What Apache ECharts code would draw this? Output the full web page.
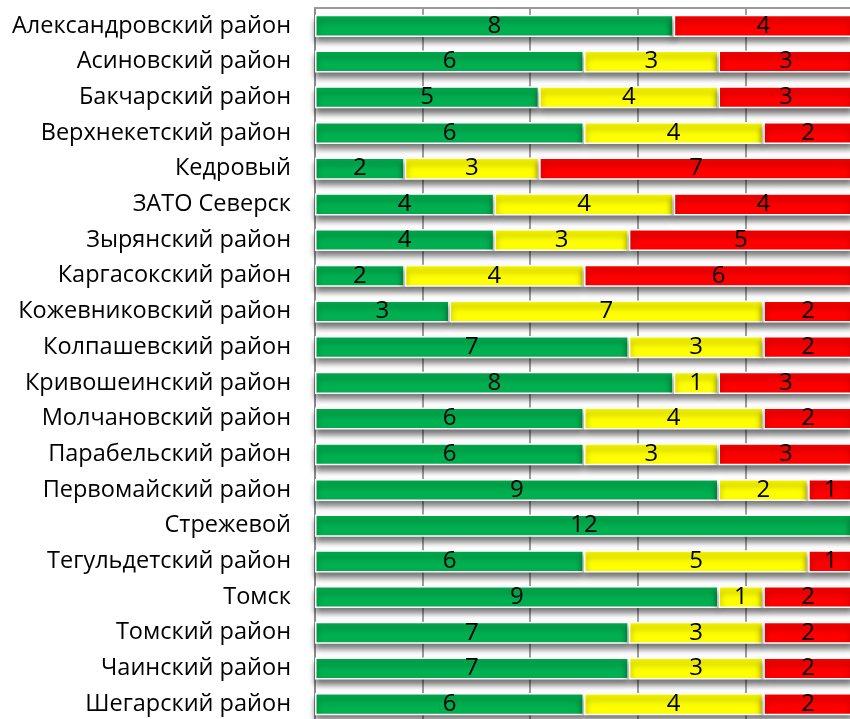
<!DOCTYPE html>
<html>
<head>
<meta charset="utf-8">
<script src="https://cdn.jsdelivr.net/npm/echarts@6/dist/echarts.min.js"></script>
<style>html,body{margin:0;padding:0;background:#fff;}#c{width:850px;height:719px;}</style>
</head>
<body>
<div id="c"></div>
<script>
const categories = ["Александровский район","Асиновский район","Бакчарский район","Верхнекетский район","Кедровый","ЗАТО Северск","Зырянский район","Каргасокский район","Кожевниковский район","Колпашевский район","Кривошеинский район","Молчановский район","Парабельский район","Первомайский район","Стрежевой","Тегульдетский район","Томск","Томский район","Чаинский район","Шегарский район"];
const greenValues  = [8,6,5,6,2,4,4,2,3,7,8,6,6,9,12,6,9,7,7,6];
const yellowValues = [0,3,4,4,3,4,3,4,7,3,1,4,3,2,0,5,1,3,3,4];
const redValues    = [4,3,3,2,7,4,5,6,2,2,3,2,3,1,0,1,2,2,2,2];
const axisMax = 12;

const FONT = "Open Sans";
function mk(name, data, color) {
  return {
    name, type: 'bar', stack: 'total', data,
    barCategoryGap: '38%',
    itemStyle: {
      color, borderColor: '#ffffff', borderWidth: 1.5,
      shadowColor: 'rgba(0,0,0,0.55)', shadowBlur: 6, shadowOffsetY: 5
    },
    label: {
      show: true, position: 'inside', color: '#000', fontFamily: FONT, fontSize: 24,
      formatter: p => p.value ? String(p.value) : ''
    },
    emphasis: { disabled: true }
  };
}
const chart = echarts.init(document.getElementById('c'), null, { renderer: 'canvas' });
chart.setOption({
  animation: false,
  grid: { left: 315, top: 8, width: 538, height: 714, containLabel: false, outerBoundsMode: 'none' },
  xAxis: {
    type: 'value', min: 0, max: axisMax, interval: 2.4, position: 'top',
    axisLine: { show: true, lineStyle: { color: '#9a9a9a', width: 2 } },
    axisTick: { show: false }, axisLabel: { show: false },
    splitLine: { show: true, lineStyle: { color: '#7f7f7f', width: 1.5 } }
  },
  yAxis: {
    type: 'category', data: categories, inverse: true,
    axisLine: { show: true, lineStyle: { color: '#8c8c8c', width: 2 } },
    axisTick: { show: false },
    axisLabel: { color: '#000', fontFamily: FONT, fontSize: 23.5, margin: 24 }
  },
  series: [
    mk('green', greenValues, '#00B050'),
    mk('yellow', yellowValues, '#FFFF00'),
    mk('red', redValues, '#FF0000')
  ]
});
</script>
</body>
</html>
